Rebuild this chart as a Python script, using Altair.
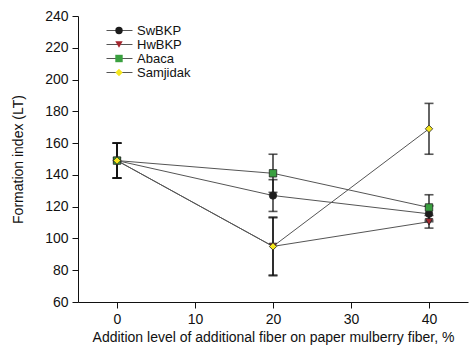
import altair as alt
import pandas as pd

series = ["SwBKP", "HwBKP", "Abaca", "Samjidak"]
levels = [0, 20, 40]
sw_vals = [149, 127, 115.5]
sw_err = [11, 10, 5]
hw_vals = [149, 95, 110.5]
hw_err = [11, 18, 4]
ab_vals = [149, 141, 119.5]
ab_err = [11, 12, 8]
sa_vals = [149, 95, 169]
sa_err = [11, 18.5, 16]
x_ticks = [0, 10, 20, 30, 40]
y_ticks = [60, 80, 100, 120, 140, 160, 180, 200, 220, 240]

fills = ["#1c1c1c", "#a3262e", "#3aa040", "#f5e61e"]
shapes = ["circle", "triangle-down", "square", "diamond"]

rows = []
for name, vals, errs in [("SwBKP", sw_vals, sw_err), ("HwBKP", hw_vals, hw_err),
                         ("Abaca", ab_vals, ab_err), ("Samjidak", sa_vals, sa_err)]:
    for lv, v, e in zip(levels, vals, errs):
        rows.append({"Series": name, "Level": lv, "Value": v, "lo": v - e, "hi": v + e,
                     "order": series.index(name)})
df = pd.DataFrame(rows)

FONT = "Liberation Sans"
XT = "Addition level of additional fiber on paper mulberry fiber, %"
YT = "Formation index (LT)"

xscale = alt.Scale(domain=[-5, 45], nice=False)
yscale = alt.Scale(domain=[60, 240], nice=False)
xaxis = alt.Axis(values=x_ticks, title=XT)
yaxis = alt.Axis(values=y_ticks, title=YT, labelOverlap=False)


def X(field):
    return alt.X(field, scale=xscale, axis=xaxis)


def Y(field):
    return alt.Y(field, scale=yscale, axis=yaxis)


base = alt.Chart(df)

# legend A: line segments + labels (data-driven domain so it is not merged)
legend_lines = alt.Legend(
    title=None, orient="none", legendX=35, legendY=8, padding=0,
    symbolType="M-3,0H3", symbolSize=75, symbolStrokeWidth=1, symbolStrokeColor="#555555",
    rowPadding=-2, labelOffset=11, labelFontSize=13, labelFont=FONT, labelColor="#111",
    zindex=0,
)
lines = base.mark_line(strokeWidth=1).encode(
    x=X("Level:Q"), y=Y("Value:Q"), order="Level:Q",
    stroke=alt.Stroke("Series:N", sort=series,
                      scale=alt.Scale(range=["#555555"] * 4), legend=legend_lines),
)

rules = base.mark_rule(color="#111111", strokeWidth=1.3).encode(
    x=X("Level:Q"), y=Y("lo:Q"), y2="hi:Q")
cap_lo = base.mark_tick(color="#111111", thickness=1.6, size=9, orient="horizontal").encode(
    x=X("Level:Q"), y=Y("lo:Q"))
cap_hi = base.mark_tick(color="#111111", thickness=1.6, size=9, orient="horizontal").encode(
    x=X("Level:Q"), y=Y("hi:Q"))

# legend B: markers only
legend_marks = alt.Legend(
    title=None, orient="none", legendX=34.5, legendY=8, padding=0,
    symbolSize=55, symbolStrokeWidth=0.8, symbolStrokeColor="#222222",
    rowPadding=-2, labelExpr="''", labelFontSize=13, labelFont=FONT, zindex=1,
)
points = base.mark_point(filled=True, size=55, opacity=1, stroke="#222222", strokeWidth=0.8).encode(
    x=X("Level:Q"), y=Y("Value:Q"),
    shape=alt.Shape("Series:N", scale=alt.Scale(domain=series, range=shapes), legend=legend_marks),
    fill=alt.Fill("Series:N", scale=alt.Scale(domain=series, range=fills), legend=legend_marks),
    order=alt.Order("order:Q"),
)

chart = alt.layer(lines, rules, cap_lo, cap_hi, points).properties(
    width=390, height=286,
    autosize=alt.AutoSizeParams(type="none"),
    padding={"left": 78, "top": 16, "right": 6, "bottom": 51},
).configure_view(stroke=None).configure_axis(
    domainColor="#111", tickColor="#111", domainWidth=1, tickWidth=1, tickSize=6,
    labelFont=FONT, titleFont=FONT, labelFontSize=14, titleFontSize=14,
    labelColor="#111", titleColor="#111", titleFontWeight="normal", grid=False,
    labelPadding=4, labelOverlap=False,
).configure_axisY(titlePadding=19).configure_axisX(titlePadding=4)

chart.save("out.html", embed_options={"renderer": "svg", "actions": False})
